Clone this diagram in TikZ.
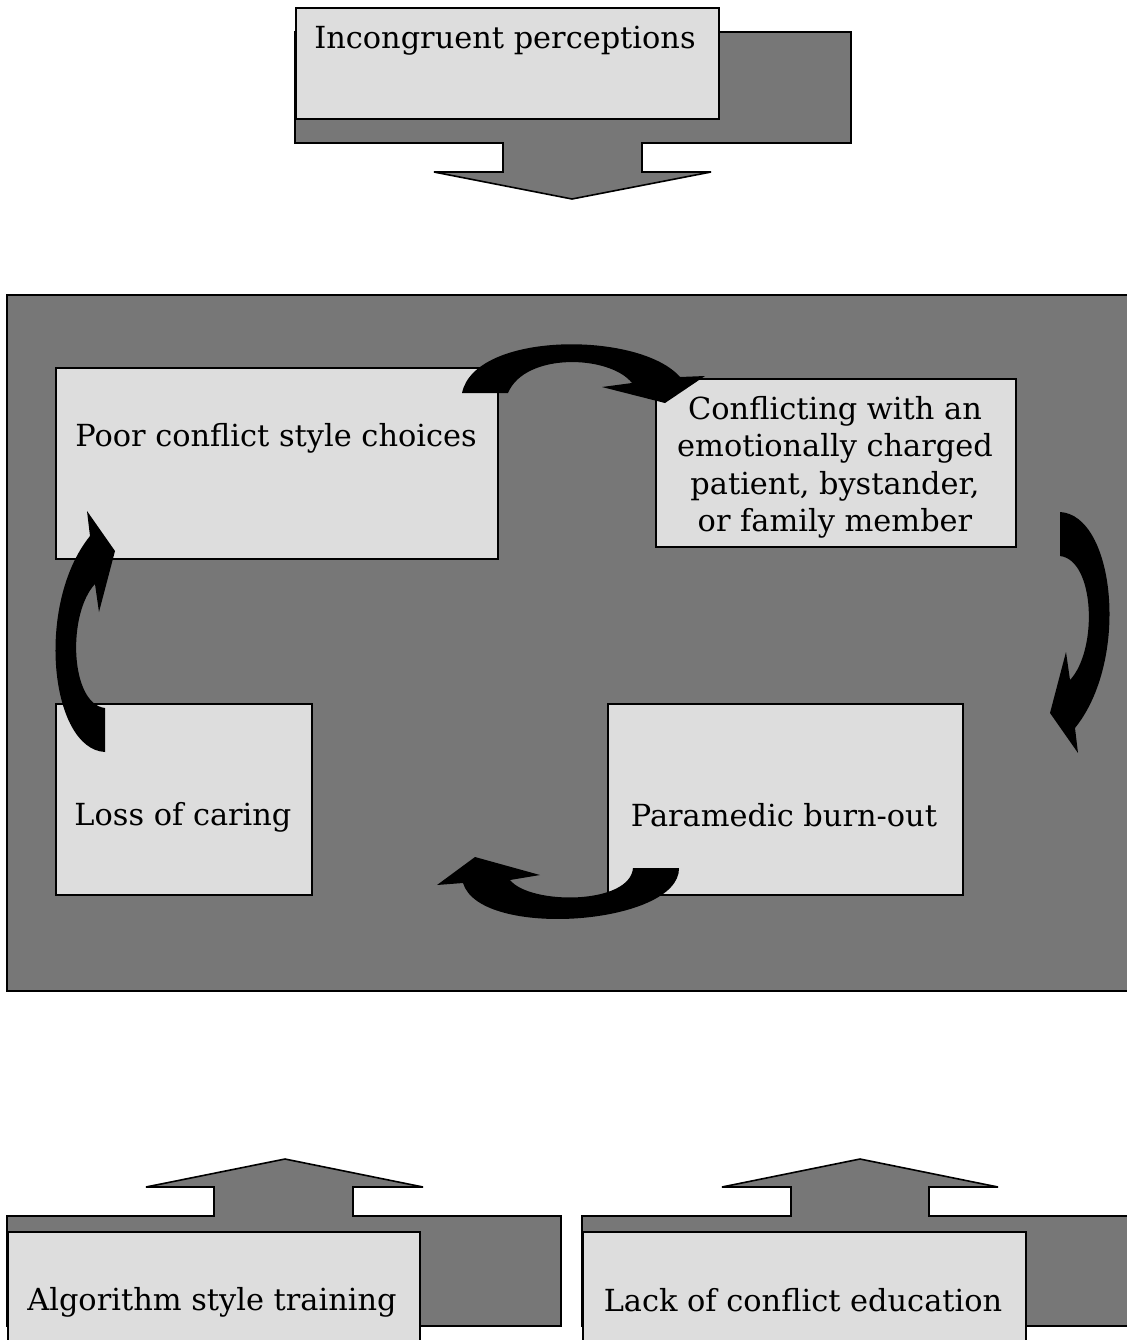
\documentclass[tikz,border=0pt]{standalone}
\usepackage{fontspec}
\setmainfont{DejaVu Serif}
\usetikzlibrary{positioning}
\definecolor{panelgray}{RGB}{119,119,119}
\definecolor{boxgray}{RGB}{221,221,221}
\tikzset{
  darkshape/.style={draw=black, line width=0.8pt, fill=panelgray},
  lightbox/.style={draw=black, line width=0.8pt, fill=boxgray, inner sep=0pt, anchor=north west},
  boxtext/.style={font=\fontsize{15.2}{18.75}\selectfont, align=center, inner sep=0pt},
  linetext/.style={boxtext, text height=11pt, text depth=3.5pt},
  cycarrow/.style={fill=black}
}
\begin{document}
\begin{tikzpicture}[x=0.5pt, y=-0.5pt]
  \useasboundingbox (0,0) rectangle (1126,1340);

  % top block arrow
  \draw[darkshape] (295,32) -- (851,32) -- (851,143) -- (642,143) -- (642,172) -- (711,172)
    -- (572,199) -- (434,172) -- (503,172) -- (503,143) -- (295,143) -- cycle;
  \node[lightbox, minimum width=211.5pt, minimum height=55.5pt] (incbox) at (295,7) {};
  \node[linetext] (inc) at (505,41) {Incongruent perceptions};

  % the cycle panel
  \draw[darkshape] (7,295) rectangle (1140,991);
  \node[lightbox, minimum width=221pt, minimum height=95.5pt]   (poorbox) at (55,367) {};
  \node[lightbox, minimum width=180pt, minimum height=84pt]     (confbox) at (655,378) {};
  \node[lightbox, minimum width=128pt, minimum height=95.5pt]   (lossbox) at (55,703) {};
  \node[lightbox, minimum width=177.5pt, minimum height=95.5pt] (burnbox) at (607,703) {};
  \node[linetext] (poor) at (276,439) {Poor conflict style choices};
  \node[boxtext] (conf) at (835,467.5) {Conflicting with an\\emotionally charged\\patient, bystander,\\or family member};
  \node[linetext] (loss) at (183,818) {Loss of caring};
  \node[linetext] (burn) at (784,818.5) {Paramedic burn-out};

  % curved arrows
  \fill[cycarrow] (462,393) .. controls (475,331) and (640,331) .. (680,377) -- (705,376)
    -- (665,403) -- (602,387) -- (632,383) .. controls (610,355) and (525,352) .. (508,393) -- cycle;
  \fill[cycarrow] (1060,512) .. controls (1115,515) and (1130,660) .. (1075,728) -- (1078,753)
    -- (1050,713) -- (1066,652) -- (1070,680) .. controls (1098,650) and (1095,560) .. (1060,556) -- cycle;
  \fill[cycarrow] (679,868) .. controls (680,925) and (480,940) .. (463,883) -- (437,885)
    -- (475,857) -- (540,875) -- (510,880) .. controls (530,905) and (630,905) .. (633,868) -- cycle;
  \fill[cycarrow] (105,752) .. controls (50,749) and (35,604) .. (90,536) -- (87,511)
    -- (115,551) -- (99,612) -- (95,584) .. controls (67,614) and (70,704) .. (105,708) -- cycle;

  % bottom block arrows
  \draw[darkshape] (7,1216) -- (214,1216) -- (214,1187) -- (146,1187) -- (285,1159) -- (423,1187)
    -- (353,1187) -- (353,1216) -- (561,1216) -- (561,1326) -- (7,1326) -- cycle;
  \node[lightbox, minimum width=206pt, minimum height=59.5pt] (algbox) at (7,1231) {};
  \node[linetext] (alg) at (212,1303) {Algorithm style training};

  \draw[darkshape] (582,1216) -- (791,1216) -- (791,1187) -- (722,1187) -- (860,1159) -- (998,1187)
    -- (929,1187) -- (929,1216) -- (1140,1216) -- (1140,1326) -- (582,1326) -- cycle;
  \node[lightbox, minimum width=221.5pt, minimum height=59.5pt] (lackbox) at (582,1231) {};
  \node[linetext] (lack) at (803,1303.5) {Lack of conflict education};
\end{tikzpicture}
\end{document}
